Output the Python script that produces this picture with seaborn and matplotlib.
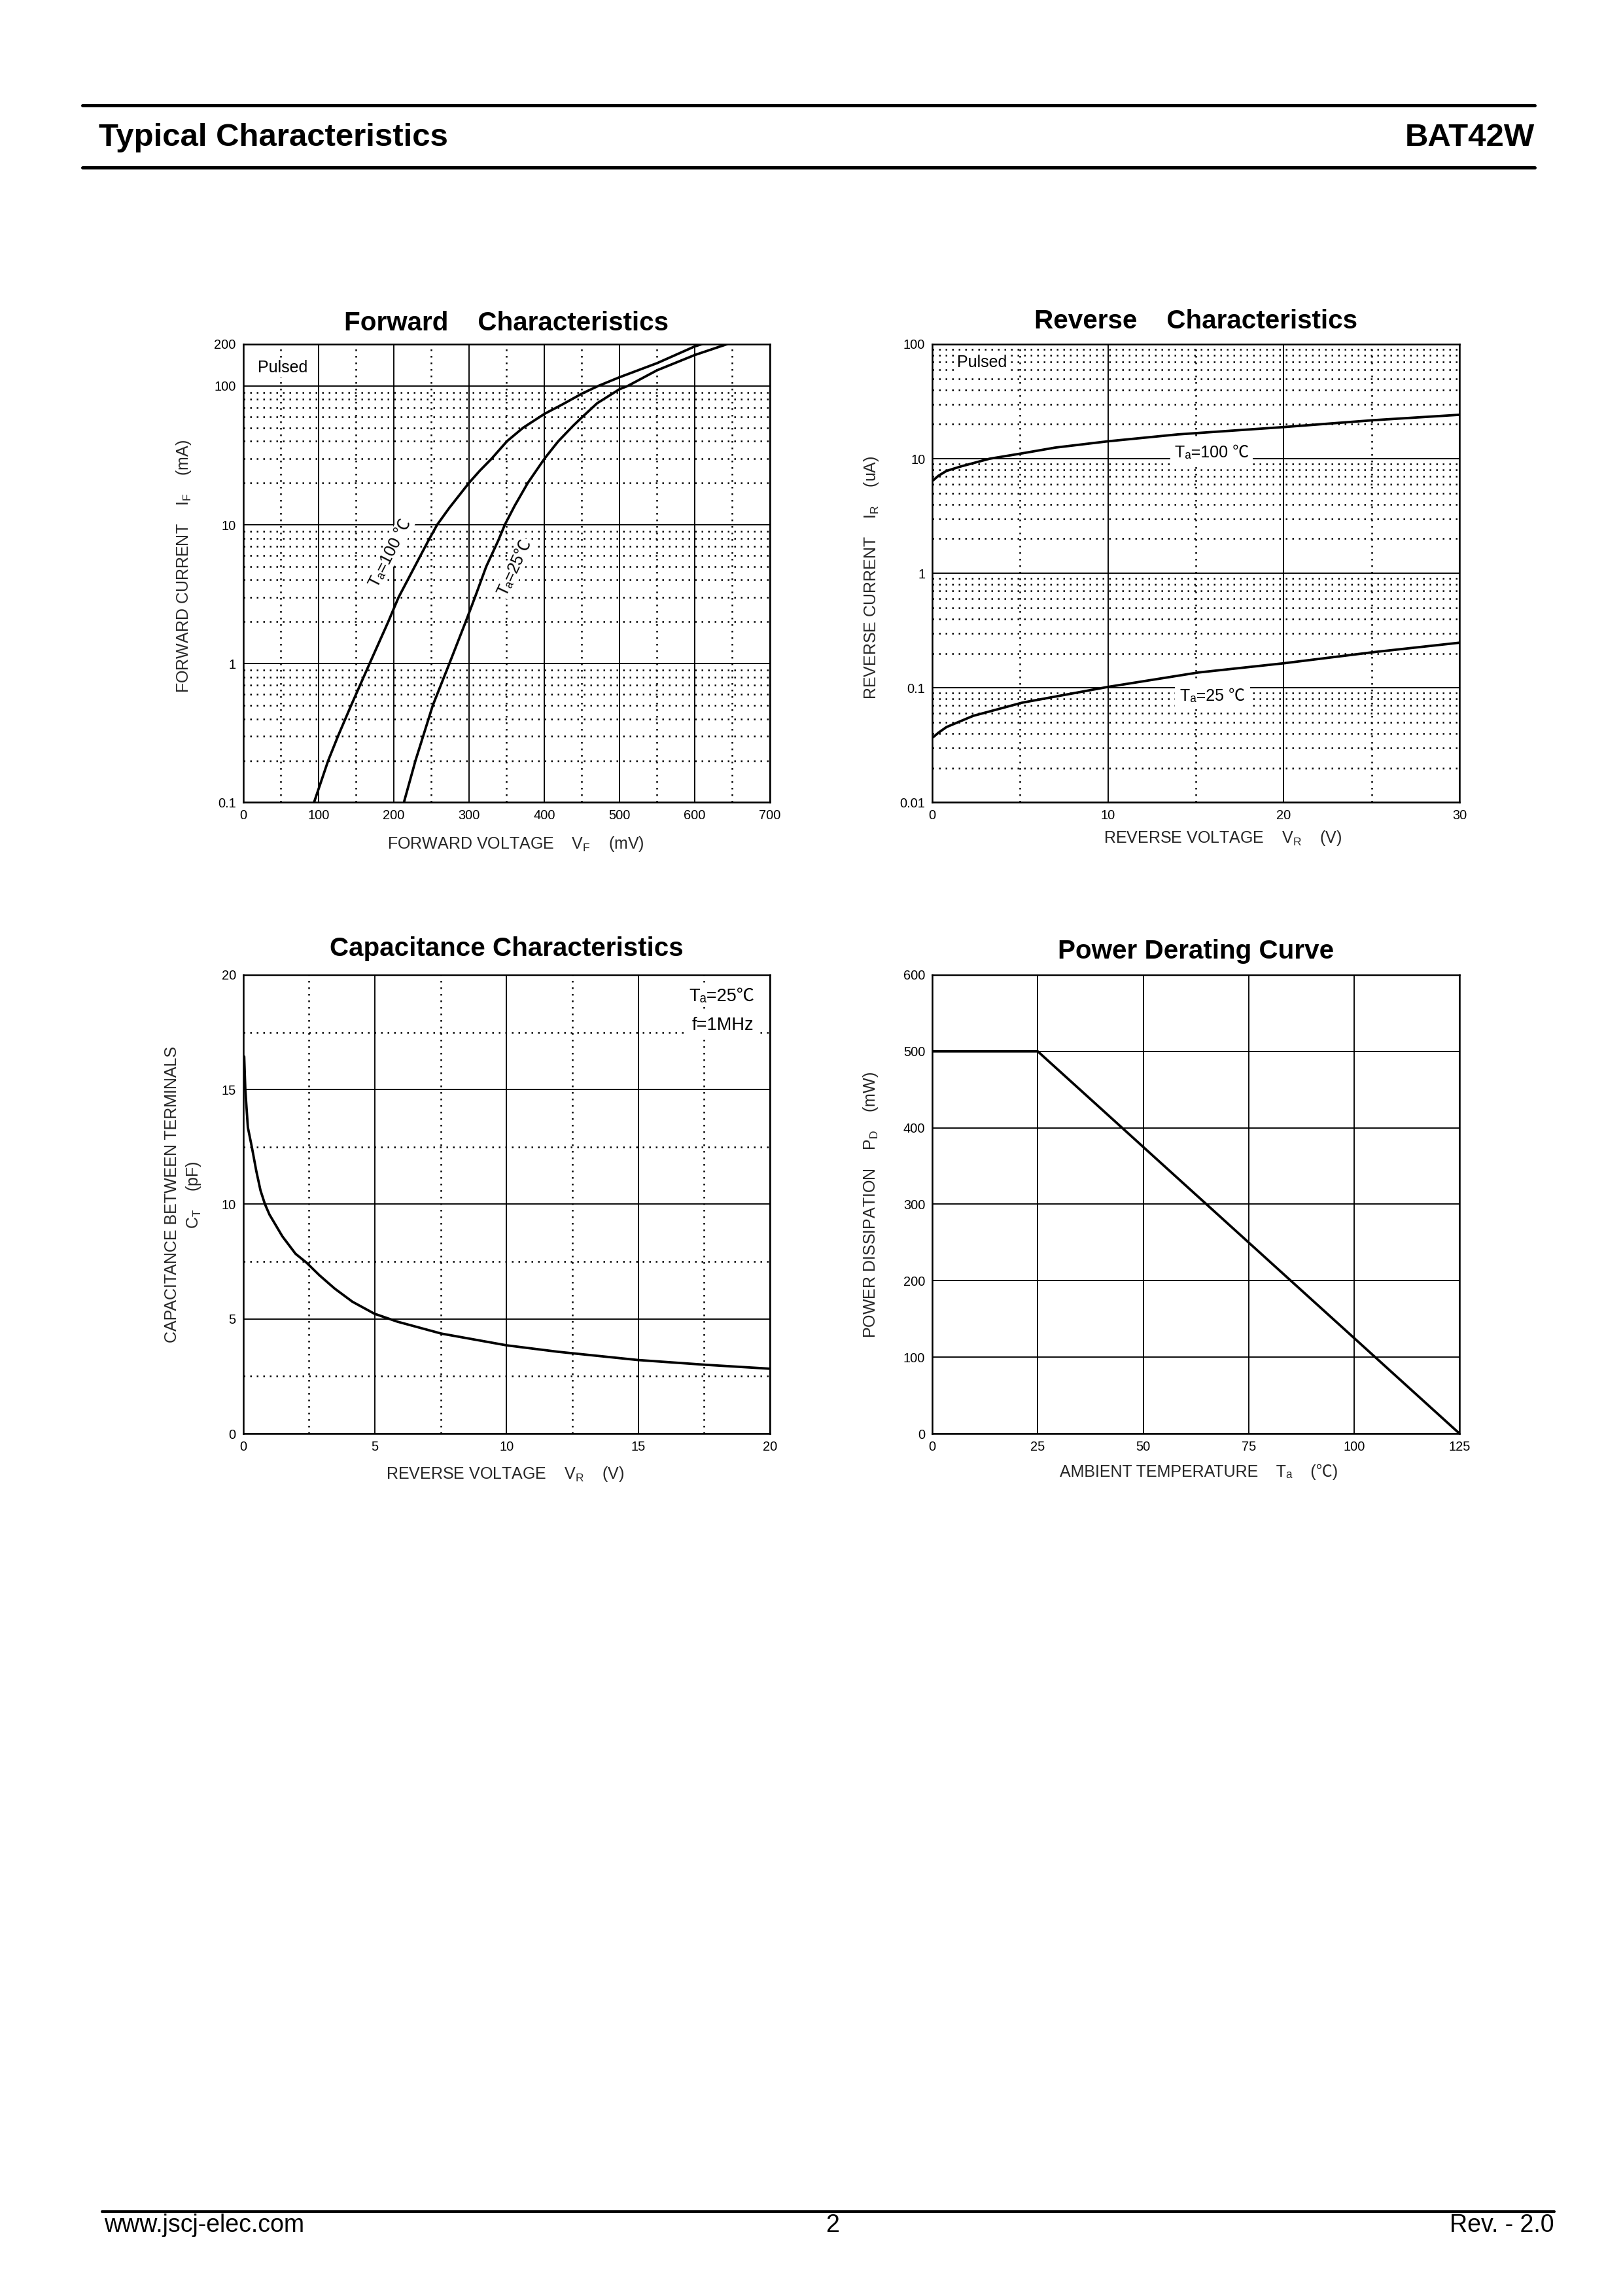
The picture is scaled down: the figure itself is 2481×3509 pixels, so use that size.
import numpy as np
import pandas as pd
import seaborn as sns
import matplotlib.pyplot as plt
from matplotlib.lines import Line2D
from matplotlib.ticker import FixedLocator, NullFormatter

# Forward characteristics: forward voltage (mV) vs forward current (mA)
fwd_vf_100 = [94.2, 113, 126, 143.5, 168, 192.8, 206.5, 228, 246.2, 257.8, 273.8, 300, 314.4,
              330.3, 350.6, 372, 400.5, 425, 450, 471.8, 500, 550, 600, 609.5]
fwd_if_100 = [0.1, 0.2, 0.3, 0.5, 1, 2, 3, 5, 7.7, 10, 13.2, 20, 24.5,
              30, 40, 50, 63, 74, 88, 100, 115.5, 146, 192.6, 200]
fwd_vf_25 = [213.6, 229, 252, 274, 295.7, 308, 323, 339, 347.7, 360.8, 378.2, 400.5, 418.8,
             439, 450, 470.3, 500, 511, 550, 600, 643]
fwd_if_25 = [0.1, 0.2, 0.5, 1, 2, 3, 5, 7.7, 10, 13.7, 20, 30, 40,
             52, 59.3, 75, 94.7, 100, 129.7, 167, 200]
fwd_xticks = [0, 100, 200, 300, 400, 500, 600, 700]
fwd_yticks = [0.1, 1, 10, 100, 200]
fwd_yticklabels = ['0.1', '1', '10', '100', '200']

# Reverse characteristics: reverse voltage (V) vs reverse current (uA)
rev_vr_100 = [0.05, 0.35, 0.81, 1.63, 3.26, 5.12, 6.98, 10, 13.95, 20, 25.1, 30]
rev_ir_100 = [6.48, 7.1, 7.83, 8.57, 10.0, 11.15, 12.5, 14.2, 16.3, 18.9, 21.7, 24.2]
rev_vr_25 = [0.05, 0.35, 0.81, 2.33, 5.12, 10, 15.1, 20, 25.1, 30]
rev_ir_25 = [0.0371, 0.0406, 0.0455, 0.057, 0.0743, 0.102, 0.136, 0.164, 0.205, 0.248]
rev_xticks = [0, 10, 20, 30]
rev_yticks = [0.01, 0.1, 1, 10, 100]
rev_yticklabels = ['0.01', '0.1', '1', '10', '100']

# Capacitance characteristics: reverse voltage (V) vs capacitance (pF)
cap_vr = [0.04, 0.083, 0.18, 0.33, 0.5, 0.66, 0.83, 1.0, 1.49, 1.99, 2.4, 2.9, 3.48,
          4.15, 4.98, 5.86, 7.53, 10, 11.94, 14.98, 17.57, 20]
cap_ct = [16.44, 15.0, 13.35, 12.5, 11.45, 10.6, 10.0, 9.55, 8.6, 7.84, 7.46, 6.9, 6.32,
          5.75, 5.23, 4.88, 4.36, 3.85, 3.57, 3.21, 3.0, 2.83]
cap_ticks = [0, 5, 10, 15, 20]

# Power derating: ambient temperature (C) vs power dissipation (mW)
pwr_ta = [0, 25, 125]
pwr_pd = [500, 500, 0]
pwr_xticks = [0, 25, 50, 75, 100, 125]
pwr_yticks = [0, 100, 200, 300, 400, 500, 600]

sns.set_style('white')
plt.rcParams['font.family'] = ['Liberation Sans', 'Noto Sans CJK SC', 'DejaVu Sans']
plt.rcParams['mathtext.fontset'] = 'custom'
plt.rcParams['mathtext.rm'] = 'Liberation Sans'
plt.rcParams['mathtext.it'] = 'Liberation Sans:italic'
plt.rcParams['mathtext.bf'] = 'Liberation Sans:bold'
plt.rcParams['axes.edgecolor'] = 'black'
plt.rcParams['axes.linewidth'] = 0.6
plt.rcParams['text.color'] = 'black'
plt.rcParams['xtick.color'] = 'black'
plt.rcParams['ytick.color'] = 'black'

dotted = (0, (1, 3))
tick_size = 4.8
label_size = 6.0
title_size = 9.7
curve_lw = 0.9

fig = plt.figure(figsize=(2481 / 300, 3509 / 300), dpi=300)

ax_fwd = fig.add_axes([0.1498, 0.6505, 0.3246, 0.1996])
ax_rev = fig.add_axes([0.5744, 0.6505, 0.3249, 0.1996])
ax_cap = fig.add_axes([0.1498, 0.3756, 0.3246, 0.1998])
ax_pwr = fig.add_axes([0.5744, 0.3756, 0.3249, 0.1998])


def finish_axes(ax):
    ax.tick_params(which='both', length=0, labelsize=tick_size, pad=2.6)
    ax.grid(True, which='major', color='black', lw=0.45, ls='-')
    ax.grid(True, which='minor', color='black', lw=0.6, ls=dotted)
    ax.set_axisbelow(True)
    for sp in ax.spines.values():
        sp.set_visible(True)
        sp.set_color('black')
        sp.set_linewidth(0.6)


# --- Forward characteristics
sns.lineplot(x=fwd_vf_100, y=fwd_if_100, ax=ax_fwd, color='black', lw=curve_lw, sort=False)
sns.lineplot(x=fwd_vf_25, y=fwd_if_25, ax=ax_fwd, color='black', lw=curve_lw, sort=False)
ax_fwd.set_yscale('log')
ax_fwd.set_xlim(0, 700)
ax_fwd.set_ylim(0.1, 200)
ax_fwd.set_xticks(fwd_xticks)
ax_fwd.set_yticks(fwd_yticks)
ax_fwd.set_yticklabels(fwd_yticklabels)
ax_fwd.xaxis.set_minor_locator(FixedLocator(list(range(50, 700, 100))))
ax_fwd.yaxis.set_minor_locator(FixedLocator([m * d for d in (0.1, 1, 10) for m in range(2, 10)]))
ax_fwd.yaxis.set_minor_formatter(NullFormatter())
finish_axes(ax_fwd)
ax_fwd.set_title('Forward    Characteristics', fontsize=title_size, fontweight='bold', pad=5)
ax_fwd.set_xlabel('FORWARD VOLTAGE    V$_\\mathrm{F}$    (mV)', fontsize=label_size)
ax_fwd.set_ylabel('FORWARD CURRENT    I$_\\mathrm{F}$    (mA)', fontsize=label_size)
ax_fwd.text(19.7, 136, 'Pulsed', fontsize=label_size, va='center',
            bbox=dict(fc='white', ec='none', pad=0.5))
ax_fwd.text(195.4, 6.27, 'Tₐ=100 ℃', fontsize=label_size, rotation=63,
            ha='center', va='center', bbox=dict(fc='white', ec='none', pad=0.5))
ax_fwd.text(360.4, 4.89, 'Tₐ=25℃', fontsize=label_size, rotation=65,
            ha='center', va='center', bbox=dict(fc='white', ec='none', pad=0.5))

# --- Reverse characteristics
sns.lineplot(x=rev_vr_100, y=rev_ir_100, ax=ax_rev, color='black', lw=curve_lw, sort=False)
sns.lineplot(x=rev_vr_25, y=rev_ir_25, ax=ax_rev, color='black', lw=curve_lw, sort=False)
ax_rev.set_yscale('log')
ax_rev.set_xlim(0, 30)
ax_rev.set_ylim(0.01, 100)
ax_rev.set_xticks(rev_xticks)
ax_rev.set_yticks(rev_yticks)
ax_rev.set_yticklabels(rev_yticklabels)
ax_rev.xaxis.set_minor_locator(FixedLocator([5, 15, 25]))
ax_rev.yaxis.set_minor_locator(FixedLocator([m * d for d in (0.01, 0.1, 1, 10) for m in range(2, 10)]))
ax_rev.yaxis.set_minor_formatter(NullFormatter())
finish_axes(ax_rev)
ax_rev.set_title('Reverse    Characteristics', fontsize=title_size, fontweight='bold', pad=5.8)
ax_rev.set_xlabel('REVERSE VOLTAGE    V$_\\mathrm{R}$    (V)', fontsize=label_size)
ax_rev.set_ylabel('REVERSE CURRENT    I$_\\mathrm{R}$    (uA)', fontsize=label_size)
ax_rev.text(1.4, 69, 'Pulsed', fontsize=label_size, va='center',
            bbox=dict(fc='white', ec='none', pad=0.5))
ax_rev.text(15.9, 11.2, 'Tₐ=100 ℃', fontsize=label_size, ha='center', va='center',
            bbox=dict(fc='white', ec='none', pad=1.5))
ax_rev.text(15.95, 0.0844, 'Tₐ=25 ℃', fontsize=label_size, ha='center', va='center',
            bbox=dict(fc='white', ec='none', pad=2))

# --- Capacitance characteristics
sns.lineplot(x=cap_vr, y=cap_ct, ax=ax_cap, color='black', lw=curve_lw, sort=False)
ax_cap.set_xlim(0, 20)
ax_cap.set_ylim(0, 20)
ax_cap.set_xticks(cap_ticks)
ax_cap.set_yticks(cap_ticks)
ax_cap.xaxis.set_minor_locator(FixedLocator([2.5, 7.5, 12.5, 17.5]))
ax_cap.yaxis.set_minor_locator(FixedLocator([2.5, 7.5, 12.5, 17.5]))
finish_axes(ax_cap)
ax_cap.set_title('Capacitance Characteristics', fontsize=title_size, fontweight='bold', pad=7)
ax_cap.set_xlabel('REVERSE VOLTAGE    V$_\\mathrm{R}$    (V)', fontsize=label_size)
ax_cap.set_ylabel('CAPACITANCE BETWEEN TERMINALS\nC$_\\mathrm{T}$    (pF)', fontsize=label_size,
                  linespacing=1.35)
ax_cap.text(19.4, 19.05, 'Tₐ=25℃', fontsize=6.5, ha='right', va='center',
            bbox=dict(fc='white', ec='none', pad=0.5))
ax_cap.text(19.38, 17.79, 'f=1MHz', fontsize=6.5, ha='right', va='center',
            bbox=dict(fc='white', ec='none', pad=1.5))

# --- Power derating curve
sns.lineplot(x=pwr_ta, y=pwr_pd, ax=ax_pwr, color='black', lw=curve_lw, sort=False)
ax_pwr.set_xlim(0, 125)
ax_pwr.set_ylim(0, 600)
ax_pwr.set_xticks(pwr_xticks)
ax_pwr.set_yticks(pwr_yticks)
finish_axes(ax_pwr)
ax_pwr.set_title('Power Derating Curve', fontsize=title_size, fontweight='bold', pad=6)
ax_pwr.set_xlabel('AMBIENT TEMPERATURE    Tₐ    (℃)', fontsize=label_size)
ax_pwr.set_ylabel('POWER DISSIPATION    P$_\\mathrm{D}$    (mW)', fontsize=label_size)

# axis label positions (axes fraction)
for ax, xl, yl in [(ax_fwd, (0.518, -0.091), (-0.113, 0.515)),
                   (ax_rev, (0.551, -0.078), (-0.115, 0.491)),
                   (ax_cap, (0.497, -0.088), (-0.113, 0.521)),
                   (ax_pwr, (0.506, -0.084), (-0.117, 0.498))]:
    ax.xaxis.set_label_coords(*xl)
    ax.xaxis.label.set_va('center')
    ax.yaxis.set_label_coords(*yl)
    ax.yaxis.label.set_va('center')

# page header
fig.add_artist(Line2D([0.0508, 0.9456], [0.9541, 0.9541], color='black', lw=1.2))
fig.add_artist(Line2D([0.0508, 0.9456], [0.9270, 0.9270], color='black', lw=1.2))
fig.text(0.0609, 0.9364, 'Typical Characteristics', fontsize=11.8, fontweight='bold', va='baseline')
fig.text(0.9456, 0.9364, 'BAT42W', fontsize=11.8, fontweight='bold', va='baseline', ha='right')

# page footer
fig.add_artist(Line2D([0.0629, 0.9577], [0.0368, 0.0368], color='black', lw=1.0))
fig.text(0.064, 0.0279, 'www.jscj-elec.com', fontsize=9, va='baseline')
fig.text(0.513, 0.0279, '2', fontsize=9, va='baseline', ha='center')
fig.text(0.9577, 0.0279, 'Rev. - 2.0', fontsize=9, va='baseline', ha='right')

fig.savefig('out.png', dpi=300)
